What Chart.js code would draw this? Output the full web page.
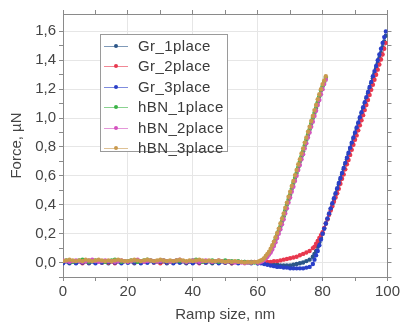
<!DOCTYPE html>
<html>
<head>
<meta charset="utf-8">
<script src="https://cdn.jsdelivr.net/npm/chart.js@4"></script>
<style>
  body { margin: 0; background: #fff; }
  #wrap { position: relative; width: 402px; height: 324px; }
  #legend {
    position: absolute; left: 100px; top: 34px; width: 128px; height: 118px;
    border: 1px solid #9a9a9a; background: #fff; box-sizing: border-box;
    font-family: "Liberation Sans", Arial, sans-serif; font-size: 15px; color: #3a3a3a;
    letter-spacing: 0.4px;
  }
  .row { position: absolute; left: 0; height: 20px; line-height: 20px; white-space: nowrap; }
  .sample { position: absolute; left: 3px; top: 10px; width: 24px; height: 0; border-top: 1px solid; }
  .dot { position: absolute; left: 10px; top: -3px; width: 4px; height: 4px; border-radius: 50%; }
  .lbl { position: absolute; left: 37px; top: 0; }
</style>
</head>
<body>
<div id="wrap">
  <canvas id="myChart" width="402" height="324"></canvas>
  <div id="legend"></div>
</div>
<script>
// series names and colours
var names = ['Gr_1place', 'Gr_2place', 'Gr_3place', 'hBN_1place', 'hBN_2place', 'hBN_3place'];
var colors = ['#2b5688', '#e8384e', '#2a3fc8', '#3cb446', '#d452c0', '#c99a4e'];

// x values (nm)
var grX = [0,2,4,6,8,10,12,14,16,18,20,22,24,26,28,30,32,34,36,38,40,42,44,46,48,50,52,54,56,58,60,
  61,62,63,64,65,66,67,68,69,70,71,72,73,74,75,76,77,
  77.5,78,78.5,79,79.5,80,80.5,81,81.5,82,82.5,83,83.5,84,84.5,85,85.5,86,86.5,87,87.5,88,88.5,89,89.5,
  90,90.5,91,91.5,92,92.5,93,93.5,94,94.5,95,95.5,96,96.5,97,97.5,98,98.5,99,99.5];
var hbnX = [0,1,2,3,4,5,6,7,8,9,10,11,12,13,14,15,16,17,18,19,20,21,22,23,24,25,26,27,28,29,
  30,31,32,33,34,35,36,37,38,39,40,41,42,43,44,45,46,47,48,49,50,51,52,53,54,55,56,57,58,59,60,
  60.5,61,61.5,62,62.5,63,63.5,64,64.5,65,65.5,66,66.5,67,67.5,68,68.5,69,69.5,70,
  70.5,71,71.5,72,72.5,73,73.5,74,74.5,75,75.5,76,76.5,77,77.5,78,78.5,79,79.5,80,80.5,81];

// force values (uN)
var gr1 = [0.0,-0.005,0.0,0.005,-0.005,0.0,0.0,-0.005,0.0,0.005,0.0,-0.005,0.0,0.0,0.005,0.0,-0.005,0.0,0.0,-0.005,0.0,0.005,0.0,-0.005,0.0,0.0,-0.005,0.0,0.005,0.0,-0.005,
  0.0,-0.005,-0.01,-0.01,-0.015,-0.015,-0.02,-0.02,-0.02,-0.02,-0.015,-0.01,-0.005,0.0,0.01,0.02,0.04,
  0.06,0.08,0.11,0.14,0.17,0.2,0.235,0.27,0.3,0.335,0.37,0.4,0.435,0.47,0.505,0.54,0.575,0.61,0.645,0.68,0.715,0.75,0.785,0.82,0.855,
  0.89,0.925,0.96,0.995,1.03,1.065,1.1,1.135,1.17,1.205,1.24,1.275,1.31,1.345,1.38,1.415,1.45,1.49,1.53,1.57];
var gr2 = [0.0,0.005,0.0,-0.005,0.0,0.005,0.0,0.0,-0.005,0.0,0.005,0.0,0.0,0.005,0.0,-0.005,0.0,0.0,0.005,0.0,0.0,-0.005,0.0,0.005,0.0,0.0,-0.005,0.0,0.0,0.005,0.0,
  0.0,0.0,0.005,0.005,0.01,0.01,0.015,0.02,0.025,0.03,0.035,0.04,0.05,0.06,0.07,0.08,0.1,
  0.11,0.13,0.15,0.17,0.19,0.21,0.24,0.27,0.3,0.33,0.36,0.39,0.42,0.45,0.48,0.51,0.545,0.58,0.61,0.645,0.68,0.71,0.745,0.78,0.815,
  0.85,0.88,0.915,0.95,0.985,1.02,1.055,1.09,1.125,1.16,1.195,1.23,1.265,1.3,1.335,1.37,1.405,1.44,1.48,1.52];
var gr3 = [-0.005,0.0,-0.005,0.0,0.0,-0.005,0.0,0.005,0.0,-0.005,0.0,0.0,-0.005,0.0,0.0,0.005,0.0,-0.005,0.0,0.0,-0.005,0.0,0.0,0.005,-0.005,0.0,0.0,-0.005,0.0,-0.005,-0.005,
  -0.005,-0.01,-0.015,-0.02,-0.025,-0.03,-0.03,-0.035,-0.035,-0.04,-0.04,-0.04,-0.04,-0.04,-0.035,-0.03,-0.01,
  0.02,0.05,0.08,0.12,0.16,0.2,0.235,0.27,0.305,0.34,0.375,0.41,0.445,0.48,0.515,0.55,0.585,0.62,0.655,0.69,0.725,0.76,0.795,0.83,0.865,
  0.9,0.935,0.97,1.005,1.04,1.075,1.11,1.145,1.18,1.215,1.25,1.29,1.325,1.36,1.4,1.44,1.48,1.52,1.56,1.6];
var hbn1 = [0.01,0.015,0.01,0.005,0.01,0.015,0.02,0.01,0.005,0.01,
  0.015,0.01,0.01,0.005,0.01,0.015,0.02,0.01,0.005,0.01,
  0.01,0.015,0.01,0.005,0.01,0.015,0.02,0.015,0.01,0.005,
  0.01,0.015,0.01,0.005,0.01,0.015,0.01,0.01,0.005,0.01,
  0.015,0.02,0.01,0.005,0.01,0.01,0.015,0.01,0.005,0.01,
  0.015,0.01,0.01,0.005,0.01,0.005,0.005,0.0,0.005,0.0,0.0,
  0.005,0.01,0.015,0.025,0.035,0.05,0.065,0.08,0.105,0.13,0.16,0.19,0.22,0.25,0.285,0.32,0.36,0.4,0.435,0.47,
  0.51,0.55,0.585,0.62,0.66,0.7,0.735,0.77,0.81,0.85,0.885,0.92,0.96,1.0,1.035,1.07,1.11,1.15,1.19,1.22,1.25,1.28];
var hbn2 = [0.015,0.01,0.005,0.01,0.015,0.01,0.005,0.01,0.015,0.02,
  0.01,0.005,0.01,0.015,0.01,0.01,0.005,0.01,0.015,0.01,
  0.005,0.01,0.015,0.02,0.01,0.005,0.01,0.015,0.01,0.005,
  0.01,0.015,0.01,0.005,0.01,0.015,0.02,0.01,0.005,0.01,
  0.015,0.01,0.005,0.01,0.015,0.01,0.005,0.01,0.015,0.01,
  0.005,0.01,0.005,0.0,0.005,0.0,-0.005,0.0,0.0,0.005,0.0,
  0.0,0.005,0.01,0.02,0.03,0.04,0.055,0.07,0.09,0.115,0.14,0.17,0.2,0.23,0.265,0.3,0.34,0.375,0.415,0.45,
  0.49,0.525,0.565,0.6,0.64,0.675,0.715,0.75,0.79,0.825,0.865,0.9,0.94,0.975,1.015,1.05,1.09,1.125,1.165,1.2,1.235,1.265];
var hbn3 = [0.01,0.015,0.02,0.015,0.01,0.015,0.01,0.02,0.015,0.01,
  0.015,0.02,0.015,0.01,0.015,0.01,0.015,0.02,0.015,0.01,
  0.01,0.015,0.02,0.015,0.01,0.015,0.02,0.015,0.01,0.015,
  0.02,0.015,0.01,0.015,0.01,0.015,0.02,0.015,0.01,0.015,
  0.01,0.015,0.02,0.015,0.01,0.015,0.01,0.01,0.015,0.01,
  0.005,0.01,0.005,0.01,0.005,0.005,0.0,0.005,0.0,0.005,0.005,
  0.01,0.015,0.02,0.03,0.045,0.06,0.075,0.095,0.12,0.145,0.175,0.205,0.235,0.27,0.305,0.34,0.38,0.415,0.455,0.49,
  0.53,0.565,0.605,0.64,0.68,0.715,0.755,0.79,0.83,0.865,0.905,0.94,0.98,1.015,1.055,1.09,1.13,1.165,1.2,1.235,1.26,1.29];

// axis ticks
var xTickLabels = [0, 20, 40, 60, 80, 100];
var yTickLabels = [0, 0.2, 0.4, 0.6, 0.8, 1.0, 1.2, 1.4, 1.6];

var seriesX = [grX, grX, grX, hbnX, hbnX, hbnX];
var seriesY = [gr1, gr2, gr3, hbn1, hbn2, hbn3];

function toPoints(xs, ys) {
  return xs.map(function (x, i) { return { x: x, y: ys[i] }; });
}
function hexA(hex, a) {
  var n = parseInt(hex.slice(1), 16);
  return 'rgba(' + (n >> 16) + ',' + ((n >> 8) & 255) + ',' + (n & 255) + ',' + a + ')';
}
function isLabelTick(list, v) {
  return list.some(function (t) { return Math.abs(t - v) < 1e-6; });
}

var datasets = names.map(function (name, i) {
  return {
    label: name,
    data: toPoints(seriesX[i], seriesY[i]),
    showLine: true,
    borderColor: hexA(colors[i], 0.6),
    borderWidth: 1.2,
    backgroundColor: colors[i],
    pointRadius: 2.2,
    pointBorderWidth: 0,
    order: 5 - i
  };
});

var font = { family: '"Liberation Sans", Arial, sans-serif', size: 15 };
var axisCol = '#8a8a8a';
var gridCol = '#e6e6e6';

var ctx = document.getElementById('myChart').getContext('2d');
var myChart = new Chart(ctx, {
  type: 'scatter',
  data: { datasets: datasets },
  options: {
    responsive: false,
    devicePixelRatio: 1,
    animation: false,
    layout: { padding: 0 },
    plugins: { legend: { display: false }, tooltip: { enabled: false } },
    scales: {
      x: {
        type: 'linear', position: 'bottom', min: 0, max: 100,
        ticks: {
          stepSize: 10, autoSkip: false, maxRotation: 0, padding: 2, color: '#444', font: font,
          callback: function (v) { return isLabelTick(xTickLabels, v) ? String(v) : ''; }
        },
        grid: {
          tickLength: 4, tickColor: axisCol,
          color: function (c) { return c.tick && isLabelTick(xTickLabels, c.tick.value) ? gridCol : 'rgba(0,0,0,0)'; }
        },
        border: { display: true, color: axisCol },
        title: { display: true, text: 'Ramp size, nm', color: '#444', font: font, padding: { top: 0, bottom: 0 } },
        afterFit: function (s) { s.height = 47; }
      },
      y: {
        type: 'linear', position: 'left', min: -0.1, max: 1.72,
        ticks: {
          stepSize: 0.1, autoSkip: false, padding: 3, color: '#444', font: font,
          callback: function (v) { return isLabelTick(yTickLabels, v) ? v.toFixed(1).replace('.', ',') : ''; }
        },
        grid: {
          tickLength: 4,
          tickColor: function (c) { return c.tick && c.tick.value < 1.71 ? axisCol : 'rgba(0,0,0,0)'; },
          color: function (c) { return c.tick && isLabelTick(yTickLabels, c.tick.value) ? gridCol : 'rgba(0,0,0,0)'; }
        },
        border: { display: true, color: axisCol },
        title: { display: true, text: 'Force, µN', color: '#444', font: font, padding: { top: 8, bottom: 8 } },
        afterFit: function (s) { s.width = 63; }
      },
      x2: {
        type: 'linear', position: 'top', min: 0, max: 100,
        ticks: { display: false, stepSize: 10 },
        grid: { drawOnChartArea: false, tickLength: 4, tickColor: axisCol },
        border: { display: true, color: axisCol },
        afterFit: function (s) { s.height = 14; }
      },
      y2: {
        type: 'linear', position: 'right', min: -0.1, max: 1.72,
        ticks: { display: false, stepSize: 0.1 },
        grid: {
          drawOnChartArea: false, tickLength: 4,
          tickColor: function (c) { return c.tick && c.tick.value < 1.71 ? axisCol : 'rgba(0,0,0,0)'; }
        },
        border: { display: true, color: axisCol },
        afterFit: function (s) { s.width = 14; }
      }
    }
  }
});

// legend inside the plot, same order as the series
var legend = document.getElementById('legend');
names.forEach(function (name, i) {
  var row = document.createElement('div');
  row.className = 'row';
  row.style.top = (1 + i * 20.4) + 'px';
  row.innerHTML = '<span class="sample" style="border-color:' + hexA(colors[i], 0.6) + '">' +
    '<span class="dot" style="background:' + colors[i] + '"></span></span>' +
    '<span class="lbl">' + name + '</span>';
  legend.appendChild(row);
});
</script>
</body>
</html>
